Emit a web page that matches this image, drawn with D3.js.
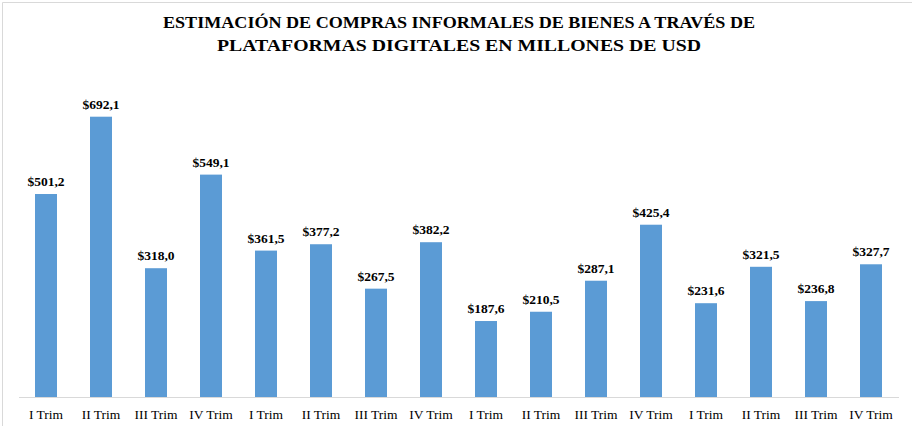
<!DOCTYPE html>
<html>
<head>
<meta charset="utf-8">
<script src="https://cdn.jsdelivr.net/npm/d3@7"></script>
<style>
  body { margin: 0; background: #fff; }
  text { font-family: "Liberation Serif", "Times New Roman", serif; }
</style>
</head>
<body>
<div id="chart"></div>
<script>
var quarters = ["I Trim", "II Trim", "III Trim", "IV Trim",
                "I Trim", "II Trim", "III Trim", "IV Trim",
                "I Trim", "II Trim", "III Trim", "IV Trim",
                "I Trim", "II Trim", "III Trim", "IV Trim"],
  values = [501.2, 692.1, 318.0, 549.1,
            361.5, 377.2, 267.5, 382.2,
            187.6, 210.5, 287.1, 425.4,
            231.6, 321.5, 236.8, 327.7],
  titleLines = ["ESTIMACIÓN DE COMPRAS INFORMALES DE BIENES A TRAVÉS DE",
                "PLATAFORMAS DIGITALES EN MILLONES DE USD"];

var W = 912, H = 426,
  left = 18.5, right = 898.5, baseY = 397, topY = 73,
  barColor = "#5b9bd5";

var svg = d3.select("#chart").append("svg")
  .attr("width", W)
  .attr("height", H);

// frame (only top and left edges are visible in the crop)
svg.append("path")
  .attr("d", "M2.5," + H + "V2.5H" + W)
  .attr("fill", "none")
  .attr("stroke", "#d9d9d9");

svg.selectAll(".title")
  .data(titleLines).enter().append("text")
  .attr("class", "title")
  .attr("x", 459)
  .attr("y", function(d, i){ return 28 + i*23; })
  .attr("text-anchor", "middle")
  .attr("font-weight", "bold")
  .attr("font-size", 17)
  .attr("textLength", function(d, i){ return i == 0 ? 592 : 484; })
  .attr("lengthAdjust", "spacingAndGlyphs")
  .attr("fill", "#000")
  .text(function(d){ return d; });

var x = d3.scaleBand()
  .domain(d3.range(values.length))
  .range([left, right])
  .paddingInner(0.6)
  .paddingOuter(0.3);

var y = d3.scaleLinear()
  .domain([0, 800])
  .range([baseY, topY]);

svg.selectAll(".bar")
  .data(values).enter().append("rect")
  .attr("class", "bar")
  .attr("x", function(d, i){ return x(i); })
  .attr("y", function(d){ return y(d); })
  .attr("width", x.bandwidth())
  .attr("height", function(d){ return baseY - y(d); })
  .attr("fill", barColor);

var xAxis = svg.append("g")
  .attr("transform", "translate(0," + baseY + ")")
  .call(d3.axisBottom(x).tickSize(0).tickPadding(12)
    .tickFormat(function(i){ return quarters[i]; }));
xAxis.select(".domain").attr("stroke", "#d9d9d9");
xAxis.selectAll("text")
  .attr("font-family", "Liberation Serif, serif")
  .attr("font-size", 13.5)
  .attr("fill", "#000");

var fmt = d3.formatLocale({ decimal: ",", thousands: ".", grouping: [3], currency: ["$", ""] }).format("$.1f");

svg.selectAll(".lbl")
  .data(values).enter().append("text")
  .attr("class", "lbl")
  .attr("x", function(d, i){ return x(i) + x.bandwidth()/2; })
  .attr("y", function(d){ return y(d) - 8; })
  .attr("text-anchor", "middle")
  .attr("font-weight", "bold")
  .attr("font-size", 13.5)
  .attr("fill", "#000")
  .text(function(d){ return fmt(d); });
</script>
</body>
</html>
